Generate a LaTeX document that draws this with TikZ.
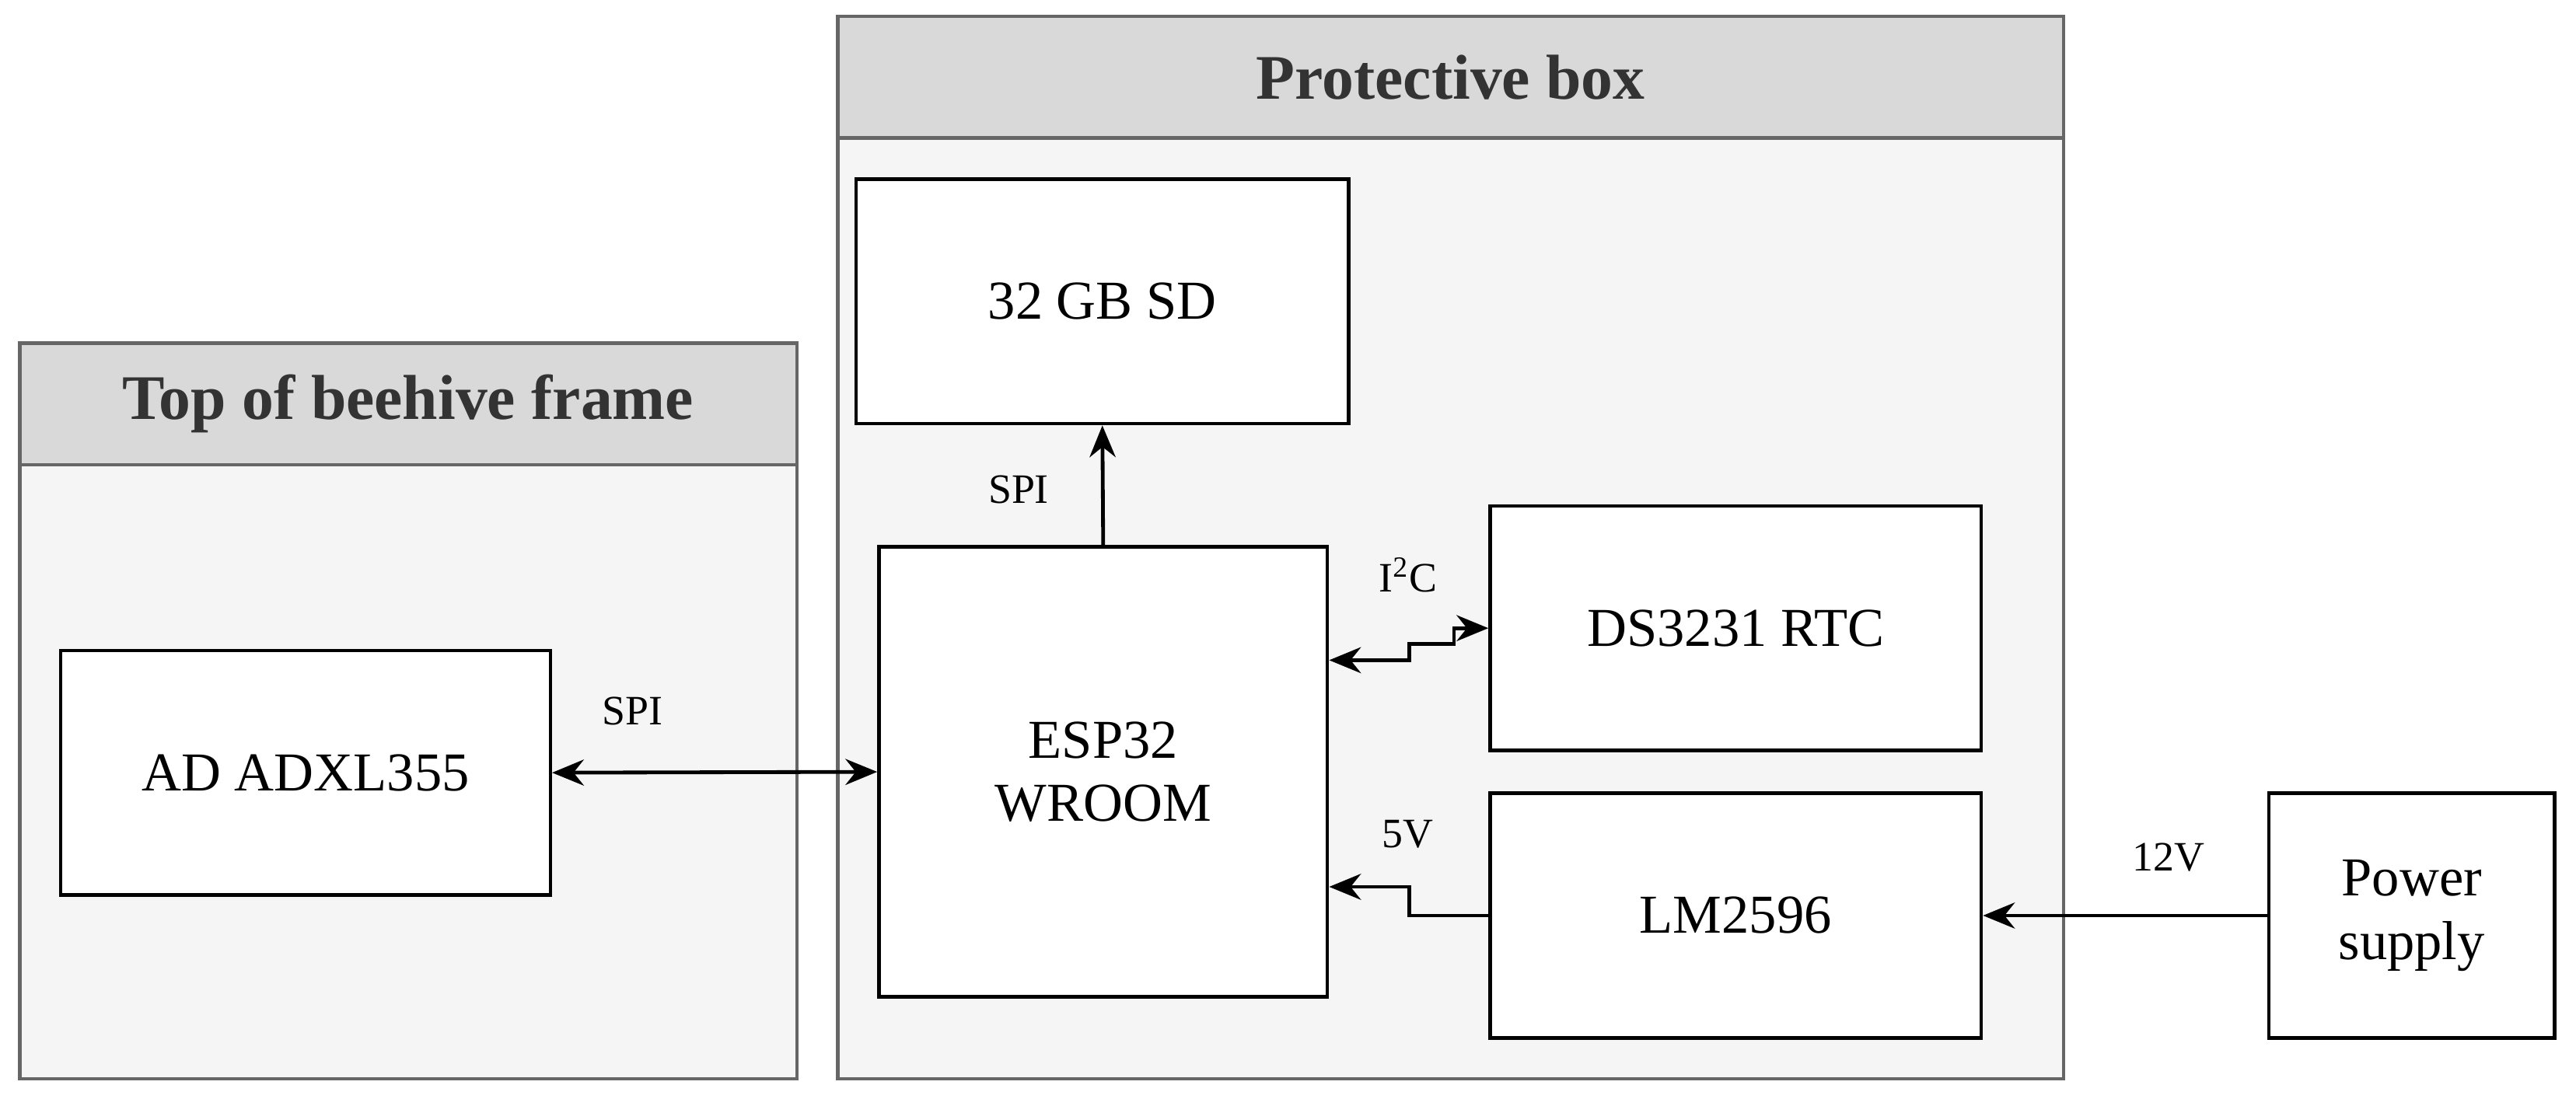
\documentclass[tikz,border=0pt]{standalone}
\usepackage{fontspec}
\setmainfont{Liberation Serif}
\usetikzlibrary{arrows.meta}
\definecolor{hdr}{HTML}{D9D9D9}
\definecolor{bg}{HTML}{F5F5F5}
\definecolor{edge}{HTML}{666666}
\begin{document}
\begin{tikzpicture}[
  box/.style={draw=black,fill=white,line width=1.2pt,font=\fontsize{19}{22}\selectfont,align=center,inner sep=0pt},
  cont/.style={draw=edge,fill=bg,line width=1.2pt},
  head/.style={draw=edge,fill=hdr,line width=1.2pt},
  ttl/.style={font=\bfseries\fontsize{22}{26}\selectfont,text=black!80},
  lbl/.style={font=\fontsize{14.5}{17}\selectfont},
  conn/.style={line width=1.3pt,-{Stealth[length=11pt,width=9pt]}},
  bconn/.style={line width=1.3pt,{Stealth[length=11pt,width=9pt]}-{Stealth[length=11pt,width=9pt]}}
]
\useasboundingbox (0,0) rectangle (31.36,-13.38);
% containers
\draw[cont] (10.2,-0.2) rectangle (25.12,-13.14);
\draw[head] (10.2,-0.2) rectangle (25.12,-1.68);
\node[ttl] (hp) at (17.66,-0.94) {Protective box};
\draw[cont] (0.24,-4.18) rectangle (9.7,-13.14);
\draw[head] (0.24,-4.18) rectangle (9.7,-5.66);
\node[ttl] (hb) at (4.97,-4.92) {Top of beehive frame};
% nodes
\node[box,minimum width=6cm,minimum height=2.98cm] (sd) at (13.42,-3.67) {32 GB SD};
\node[box,minimum width=5.46cm,minimum height=5.48cm] (esp) at (13.43,-9.4) {ESP32\\WROOM};
\node[box,minimum width=5.98cm,minimum height=2.98cm] (ds) at (21.13,-7.65) {DS3231 RTC};
\node[box,minimum width=5.98cm,minimum height=2.98cm] (lm) at (21.13,-11.15) {LM2596};
\node[box,minimum width=5.96cm,minimum height=2.98cm] (ad) at (3.72,-9.41) {AD ADXL355};
\node[box,minimum width=3.48cm,minimum height=2.98cm] (ps) at (29.36,-11.15) {Power\\supply};
% connectors
\draw[conn] (esp.north) -- (sd.south);
\node[lbl] (l1) at (12.4,-5.96) {SPI};
\draw[bconn] (ad.east) -- (esp.west);
\node[lbl] (l2) at (7.7,-8.66) {SPI};
\draw[bconn] (esp.east |- 0,-8.04) -- (17.16,-8.04) -- (17.16,-7.84) -- (17.7,-7.84) -- (17.7,-7.65) -- (ds.west);
\node[lbl] (l3) at (17.14,-7.0) {I\textsuperscript{2}C};
\draw[conn] (lm.west) -- (17.16,-11.15) -- (17.16,-10.8) -- (esp.east |- 0,-10.8);
\node[lbl] (l4) at (17.14,-10.16) {5V};
\draw[conn] (ps.west) -- (lm.east);
\node[lbl] (l5) at (26.4,-10.44) {12V};
\end{tikzpicture}
\end{document}
